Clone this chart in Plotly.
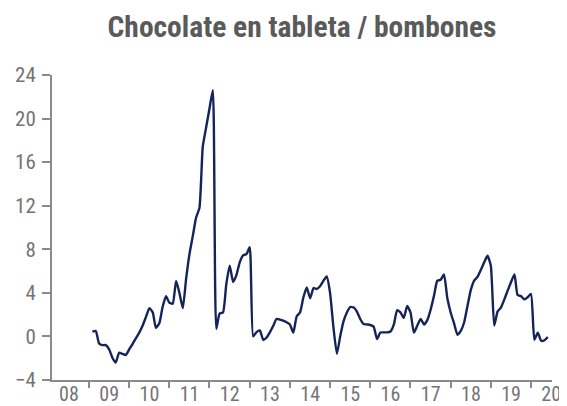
import pandas as pd
import plotly.graph_objects as go

title_text = "Chocolate en tableta / bombones"
start_month = "2008-08-01"
values = [
    0.43, 0.5, -0.65, -0.8, -0.8, -1.2, -2.0, -2.4, -1.5, -1.6,
    -1.7, -1.2, -0.7, -0.15, 0.35, 1.0, 1.8, 2.6, 2.2, 0.8,
    1.2, 2.7, 3.7, 3.1, 3.0, 5.1, 4.0, 2.6, 5.3, 7.6,
    9.3, 10.9, 11.8, 17.4, 19.2, 20.9, 22.6, 0.7, 2.1, 2.2,
    4.8, 6.5, 5.0, 5.6, 6.8, 7.45, 7.55, 8.2, 0.0, 0.4,
    0.55, -0.33, -0.1, 0.4, 1.0, 1.6, 1.55, 1.45, 1.3, 1.1,
    0.35, 1.85, 2.2, 3.6, 4.5, 3.5, 4.45, 4.35, 4.6, 5.1,
    5.5, 4.0, 0.8, -1.6, 0.0, 1.4, 2.2, 2.7, 2.65, 2.3,
    1.6, 1.15, 1.1, 1.05, 0.9, -0.25, 0.35, 0.37, 0.37, 0.45,
    1.1, 2.4, 2.2, 1.7, 2.8, 2.2, 0.35, 1.0, 1.6, 1.1,
    1.5, 2.5, 3.8, 5.1, 5.2, 5.7, 3.5, 2.2, 1.2, 0.15,
    0.5, 1.3, 2.8, 4.3, 5.15, 5.45, 6.1, 6.8, 7.4, 6.5,
    1.0, 2.3, 2.65, 3.4, 4.2, 5.0, 5.7, 3.8, 3.7, 3.4,
    3.6, 3.9, -0.3, 0.34, -0.4, -0.35, -0.05,
]
months = pd.date_range(start_month, periods=len(values), freq="MS")

year_labels = ["08", "09", "10", "11", "12", "13", "14", "15", "16", "17", "18", "19", "20"]
year_ticks = [f"20{y}-01-01" for y in year_labels]
year_boundaries = [f"20{y}-07-01" for y in year_labels[:-1]]
y_ticks = [-4, 0, 4, 8, 12, 16, 20, 24]

axis_gray = "#8a8a8a"
label_gray = "#747474"
line_color = "#14245a"
font_family = "Roboto Condensed, Open Sans Condensed, sans-serif"

# The page body has the browser's default 8px margin, so the figure is
# sized to fill the rest of the 567x406 window.
fig_w, fig_h = 559, 398

fig = go.Figure(
    go.Scatter(
        x=months, y=values, mode="lines",
        line=dict(color=line_color, width=2.4, shape="spline", smoothing=0.5),
        hoverinfo="skip",
    )
)

fig.update_layout(
    width=fig_w, height=fig_h,
    margin=dict(l=44, r=15, t=67, b=26, autoexpand=False),
    paper_bgcolor="white", plot_bgcolor="white",
    showlegend=False,
    title=dict(
        text=f"<b>{title_text}</b>",
        x=0.5, xref="paper", xanchor="center",
        y=1 - 19 / fig_h, yref="container", yanchor="middle",
        font=dict(family=font_family, size=29.5, color="#5a5a5a"),
    ),
)

fig.update_xaxes(
    type="date", automargin=False,
    range=["2007-07-31", "2020-01-08"],
    tickmode="array", tickvals=year_ticks, ticktext=year_labels,
    ticks="",
    tickfont=dict(family=font_family, size=20, color=label_gray),
    showline=True, linecolor=axis_gray, linewidth=2,
    showgrid=False, zeroline=False,
    minor=dict(tickmode="array", tickvals=year_boundaries, ticks="outside",
               ticklen=6, tickwidth=1.5, tickcolor=axis_gray, showgrid=False),
)
try:
    fig.update_xaxes(ticklabelstandoff=-5)
except ValueError:
    fig.update_xaxes(ticklabelstandoff=0)

fig.update_yaxes(
    automargin=False,
    range=[-4, 24],
    tickmode="array", tickvals=y_ticks,
    ticks="outside", ticklen=8, tickwidth=1.5, tickcolor=axis_gray,
    ticklabelstandoff=2,
    tickfont=dict(family=font_family, size=21, color=label_gray),
    showline=True, linecolor=axis_gray, linewidth=2,
    showgrid=False, zeroline=False,
)

fig.write_html("out.html")
